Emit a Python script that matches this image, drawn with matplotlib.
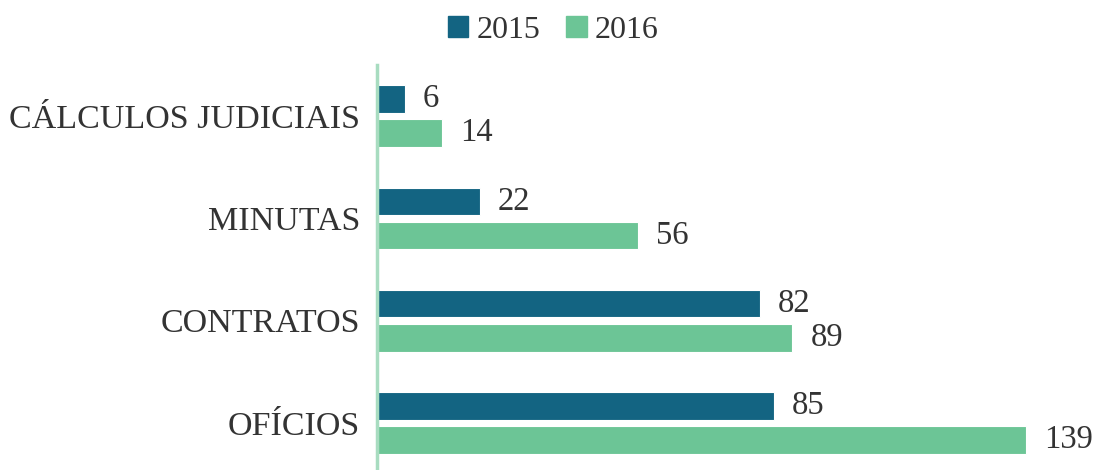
import matplotlib
matplotlib.use("Agg")
import matplotlib.pyplot as plt
import numpy as np
from matplotlib.patches import Patch

categories = ["CÁLCULOS JUDICIAIS", "MINUTAS", "CONTRATOS", "OFÍCIOS"]
series_names = ["2015", "2016"]
values_2015 = [6, 22, 82, 85]
values_2016 = [14, 56, 89, 139]

c2015 = "#136482"
c2016 = "#6cc596"
txt = "#333333"

plt.rcParams['font.family'] = ['Liberation Serif', 'DejaVu Serif']

fig = plt.figure(figsize=(10.95, 4.70), dpi=100)
ax = fig.add_axes([377/1095, 0.0, 1 - 377/1095, (470-65)/470])

y = np.arange(len(categories))
h = 0.27
off = 0.167
b1 = ax.barh(y - off, values_2015, height=h, color=c2015, edgecolor="white", linewidth=0.8)
b2 = ax.barh(y + off, values_2016, height=h, color=c2016, edgecolor="white", linewidth=0.8)

for bars, vals in ((b1, values_2015), (b2, values_2016)):
    for rect, v in zip(bars, vals):
        ax.annotate(str(v), (rect.get_width(), rect.get_y() + rect.get_height()/2),
                    xytext=(13, 0), textcoords="offset points", va="center", ha="left",
                    fontsize=23.5, color=txt)

ax.set_xlim(0, 153.8)
ax.set_ylim(3.46, -0.5)
ax.set_yticks(y)
ax.set_yticklabels(categories, fontsize=24.5, color=txt)
ax.tick_params(axis='y', length=0, pad=12)
ax.set_xticks([])
for s in ("top", "right", "bottom"):
    ax.spines[s].set_visible(False)
ax.spines["left"].set_color("#a8dcc0")
ax.spines["left"].set_linewidth(2.5)

handles = [Patch(color=c2015, label="2015"), Patch(color=c2016, label="2016")]
fig.legend(handles=handles, loc="center", bbox_to_anchor=(553/1095, 1 - 30/470), ncol=2,
           frameon=False, fontsize=23, handlelength=0.65, handleheight=0.65,
           handletextpad=0.25, columnspacing=0.8, labelcolor=txt)

fig.savefig("out.png", dpi=100)
